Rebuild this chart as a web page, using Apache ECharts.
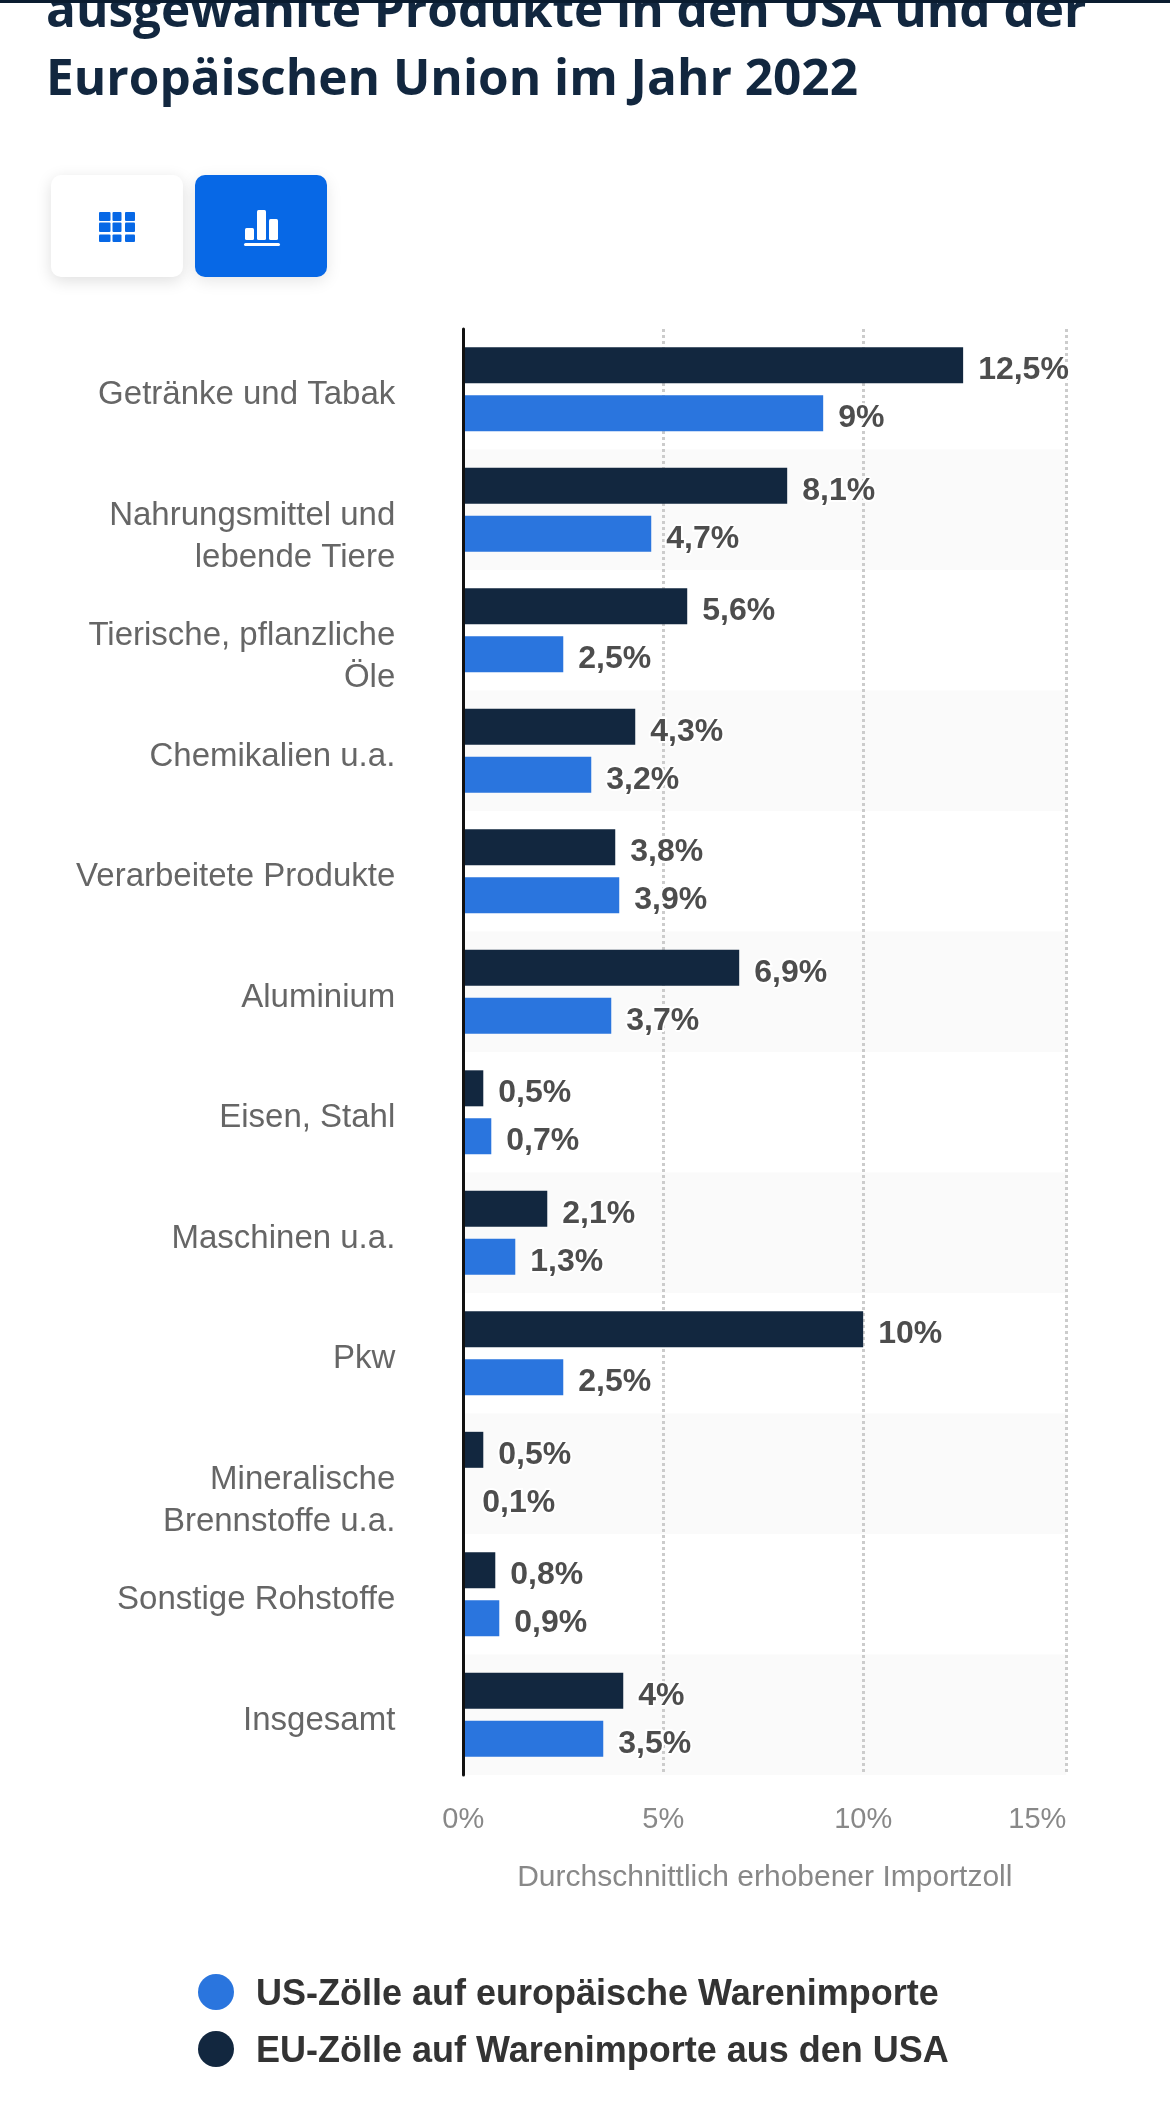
<!DOCTYPE html>
<html>
<head>
<meta charset="utf-8">
<title>Importzölle USA EU 2022</title>
<script src="https://cdn.jsdelivr.net/npm/echarts@6/dist/echarts.min.js"></script>
<style>
html, body { margin: 0; padding: 0; background: #fff; }
#chartBar { width: 1170px; height: 2120px; }
</style>
</head>
<body>
<div id="chartBar"></div>
<script>
var titleLines = 'ausgewählte Produkte in den USA und der\nEuropäischen Union im Jahr 2022';
var categories = ['Getränke und Tabak', 'Nahrungsmittel und\nlebende Tiere', 'Tierische, pflanzliche\nÖle', 'Chemikalien u.a.',
    'Verarbeitete Produkte', 'Aluminium', 'Eisen, Stahl', 'Maschinen u.a.', 'Pkw',
    'Mineralische\nBrennstoffe u.a.', 'Sonstige Rohstoffe', 'Insgesamt'];
var euZoelle = [12.5, 8.1, 5.6, 4.3, 3.8, 6.9, 0.5, 2.1, 10, 0.5, 0.8, 4];
var usZoelle = [9, 4.7, 2.5, 3.2, 3.9, 3.7, 0.7, 1.3, 2.5, 0.1, 0.9, 3.5];
var euName = 'EU-Zölle auf Warenimporte aus den USA';
var usName = 'US-Zölle auf europäische Warenimporte';
var xTicks = [0, 5, 10, 15];
var xName = 'Durchschnittlich erhobener Importzoll';

var dunkel = '#12273f';
var blau = '#2a75de';
var knopfBlau = '#0768e6';
var schrift = 'Liberation Sans';

function prozent(v) {
    return String(v).replace('.', ',') + '%';
}

// Kacheln und Balken-Symbol der beiden Knöpfe
var knopfTeile = [
    { type: 'rect', z: 10, shape: { x: 0, y: 0, width: 1170, height: 3 }, style: { fill: '#0a1c30' } },
    { type: 'rect', shape: { x: 51, y: 175, width: 132, height: 102, r: 10 },
      style: { fill: '#fff', shadowBlur: 16, shadowOffsetY: 4, shadowColor: 'rgba(0,0,0,0.13)' } },
    { type: 'rect', shape: { x: 195, y: 175, width: 132, height: 102, r: 10 },
      style: { fill: knopfBlau, shadowBlur: 16, shadowOffsetY: 4, shadowColor: 'rgba(0,0,0,0.10)' } },
    { type: 'rect', shape: { x: 245, y: 228, width: 9, height: 12, r: 1.5 }, style: { fill: '#fff' } },
    { type: 'rect', shape: { x: 257, y: 210, width: 9, height: 30, r: 1.5 }, style: { fill: '#fff' } },
    { type: 'rect', shape: { x: 269, y: 219, width: 9, height: 21, r: 1.5 }, style: { fill: '#fff' } },
    { type: 'rect', shape: { x: 244, y: 243, width: 36, height: 3, r: 1.5 }, style: { fill: '#fff' } }
];
var spalteX = [99, 112.5, 125];
var spalteB = [11.5, 9, 10];
var zeileY = [212, 222.5, 234.5];
var zeileH = [9, 9.5, 7.5];
for (var s = 0; s < 3; s++) {
    for (var z = 0; z < 3; z++) {
        knopfTeile.push({
            type: 'rect',
            shape: { x: spalteX[s], y: zeileY[z], width: spalteB[s], height: zeileH[z], r: 1 },
            style: { fill: knopfBlau }
        });
    }
}

var myChart = echarts.init(document.getElementById('chartBar'));
var option = {
    animation: false,
    backgroundColor: '#fff',
    textStyle: { fontFamily: schrift },
    title: {
        text: titleLines,
        left: 46,
        top: -21,
        padding: 0,
        textStyle: {
            fontFamily: 'Open Sans',
            fontWeight: 700,
            fontSize: 49.5,
            lineHeight: 68,
            color: dunkel
        }
    },
    graphic: knopfTeile,
    legend: {
        data: [usName, euName],
        orient: 'vertical',
        left: 198,
        top: 1974,
        padding: 0,
        itemWidth: 36,
        itemHeight: 36,
        itemGap: 18,
        icon: 'circle',
        formatter: '{t|{name}}',
        textStyle: {
            fontFamily: schrift,
            fontSize: 36,
            fontWeight: 'bold',
            color: '#333',
            padding: [0, 0, 0, 17],
            rich: {
                t: {
                    fontFamily: schrift,
                    fontSize: 36,
                    fontWeight: 'bold',
                    color: '#333',
                    padding: [6, 0, 0, 0]
                }
            }
        }
    },
    grid: {
        top: 329,
        left: 463.3,
        width: 603,
        height: 1446,
        containLabel: false
    },
    xAxis: {
        type: 'value',
        min: 0,
        max: 15.08,
        z: 1,
        name: xName,
        nameLocation: 'middle',
        nameGap: 88,
        nameTextStyle: { fontFamily: schrift, fontSize: 30, color: '#888' },
        axisLine: { show: false },
        axisTick: { show: false, customValues: [xTicks[0], xTicks[1], xTicks[2], 15.08] },
        axisLabel: {
            customValues: [xTicks[0], xTicks[1], xTicks[2], 15.08],
            alignMaxLabel: 'right',
            fontFamily: schrift,
            fontSize: 29,
            color: '#888',
            margin: 30,
            formatter: function (v) {
                return Math.floor(v) + '%';
            }
        },
        splitLine: {
            show: true,
            lineStyle: { color: '#ccc', width: 3, type: [3, 3] }
        }
    },
    yAxis: [
        {
            type: 'category',
            inverse: true,
            data: categories,
            z: 5,
            axisLine: { show: true, lineStyle: { color: '#111', width: 3 } },
            axisTick: { show: false },
            axisLabel: {
                fontFamily: schrift,
                fontSize: 33,
                lineHeight: 42,
                color: '#666',
                align: 'right',
                verticalAlign: 'top',
                padding: [-15, 0, 0, 0],
                margin: 68
            },
            splitArea: { show: false }
        },
        {
            // nur die Streifen im Hintergrund
            type: 'category',
            inverse: true,
            data: categories,
            position: 'left',
            z: 0,
            axisLine: { show: false },
            axisTick: { show: false },
            axisLabel: { show: false },
            splitArea: {
                show: true,
                areaStyle: { color: ['#fff', '#fafafa'] }
            }
        }
    ],
    series: [
        {
            name: euName,
            type: 'bar',
            barWidth: 36,
            barGap: '33%',
            itemStyle: { color: dunkel },
            label: {
                show: true,
                position: 'right',
                distance: 15,
                offset: [0, 5],
                fontFamily: schrift,
                fontSize: 32,
                fontWeight: 'bold',
                color: '#4d4d4d',
                textBorderColor: '#fff',
                textBorderWidth: 4,
                formatter: function (p) { return prozent(p.value); }
            },
            data: euZoelle
        },
        {
            name: usName,
            type: 'bar',
            barWidth: 36,
            barGap: '33%',
            itemStyle: { color: blau },
            label: {
                show: true,
                position: 'right',
                distance: 15,
                offset: [0, 5],
                fontFamily: schrift,
                fontSize: 32,
                fontWeight: 'bold',
                color: '#4d4d4d',
                textBorderColor: '#fff',
                textBorderWidth: 4,
                formatter: function (p) { return prozent(p.value); }
            },
            // der 0,1%-Balken ist im Original nicht zu sehen
            data: usZoelle.map(function (v) {
                return v < 0.2 ? { value: v, itemStyle: { color: 'transparent' } } : v;
            })
        }
    ]
};
myChart.setOption(option);
</script>
</body>
</html>
